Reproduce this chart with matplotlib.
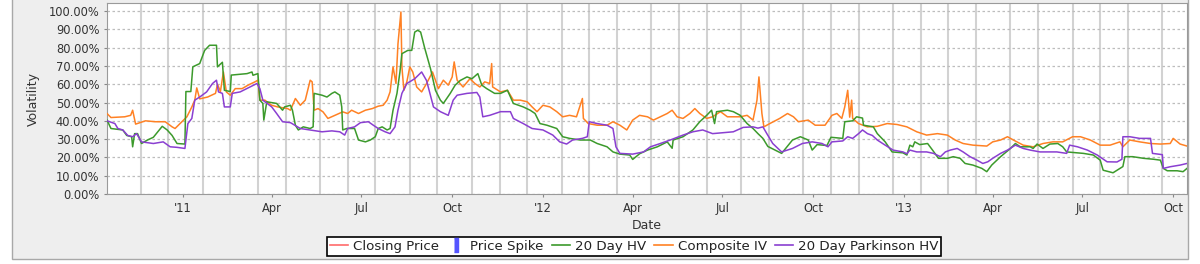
import matplotlib
matplotlib.use('Agg')
import numpy as np
import pandas as pd
import matplotlib.pyplot as plt
from matplotlib.patches import Rectangle
from matplotlib.lines import Line2D
from matplotlib.ticker import FuncFormatter, MultipleLocator
import matplotlib.dates as mdates

# days counted from 2010-10-16
start = pd.Timestamp('2010-10-16')
n_days = 1095

# Composite IV (%)
iv_day = [0, 4, 18, 24, 26, 29, 39, 49, 59, 66, 69, 76, 81, 86, 89, 91, 94, 102, 110, 112,
          115, 118, 121, 125, 130, 137, 143, 150, 153, 155, 160, 167, 173, 183, 186, 191, 196, 201, 206, 208,
          210, 214, 219, 224, 231, 239, 244, 248, 255, 262, 269, 275, 280, 284, 287, 290, 293, 295, 298, 299,
          301, 304, 307, 310, 314, 319, 324, 330, 333, 336, 341, 346, 350, 352, 355, 361, 368, 373, 378, 383,
          388, 390, 391, 399, 406, 412, 419, 426, 431, 436, 442, 449, 456, 462, 469, 476, 482, 483, 488, 497,
          507, 513, 520, 527, 533, 540, 548, 554, 561, 568, 573, 578, 584, 591, 596, 601, 608, 614, 622, 629,
          635, 642, 649, 655, 659, 661, 664, 666, 672, 682, 690, 696, 701, 711, 718, 728, 735, 740, 745, 748,
          751, 753, 755, 756, 762, 771, 781, 791, 801, 811, 821, 831, 842, 852, 860, 868, 878, 892, 898, 906,
          913, 919, 929, 939, 949, 959, 969, 979, 987, 997, 1007, 1017, 1027, 1030, 1037, 1047, 1058, 1068, 1078, 1081,
          1088, 1095]
iv_val = [44, 41.8, 42.2, 43, 45.8, 38.2, 40, 39.5, 39.5, 36.7, 35.8, 39.5, 42.2, 47.6, 51.3, 58, 52, 53, 55, 60,
          56, 66.7, 55.8, 54, 57.6, 57.6, 59.5, 61.3, 62.2, 51.3, 51.3, 48.5, 47.6, 46.7, 45.8, 52.2, 48.5, 51.3, 62.2, 61.3,
          45.8, 46.7, 44.9, 41.3, 43, 44.9, 44, 45.8, 44, 45.8, 46.7, 48, 48.5, 51.3, 55.8, 69.5, 60.4, 82, 99.5, 69.5,
          56.7, 61.3, 69.5, 66.7, 58.5, 55.8, 60.4, 66.7, 62.2, 57.6, 62.2, 59.5, 64, 72.2, 62.2, 58.5, 63, 60.4, 58.5, 61.3,
          60.4, 71.3, 58.5, 55.8, 56.7, 51.3, 51.3, 50.4, 47.6, 45, 48.5, 47.6, 45, 42.2, 43, 42.2, 52.2, 41.3, 38.5, 37.6,
          37.6, 39.5, 37.6, 35, 40.4, 43, 42.2, 40.4, 42.2, 44, 45.8, 42.2, 41.3, 44, 46.7, 44, 41.3, 42.2, 45, 42.2,
          42.2, 42.2, 43, 40.4, 51.3, 64, 44, 36.7, 38.5, 41.3, 44, 42.2, 39.5, 40.4, 37.6, 37.6, 43, 44, 41.3, 47.6,
          56.7, 42, 51.3, 41.3, 38.5, 36.7, 37, 38.5, 38, 36.7, 34, 32.2, 33, 32.2, 29.5, 27.6, 26.7, 26.2, 28.5, 29.5,
          31.3, 29.5, 26.7, 25.8, 27.6, 28.5, 28.5, 31.3, 31.3, 29.5, 26.7, 26.7, 28.5, 25.8, 29.5, 28.5, 27.6, 27.3, 27.6, 30.4,
          27.3, 26.2]

# 20 Day HV (%)
hv_day = [0, 4, 16, 20, 25, 26, 28, 31, 35, 41, 47, 56, 61, 66, 71, 79, 80, 85, 87, 94,
          99, 104, 111, 112, 117, 119, 125, 126, 142, 147, 148, 153, 155, 158, 159, 162, 172, 178, 180, 186,
          188, 191, 194, 199, 206, 209, 210, 218, 223, 228, 231, 236, 238, 239, 243, 251, 255, 262, 267, 272,
          275, 279, 284, 287, 290, 294, 297, 299, 305, 309, 312, 315, 318, 322, 328, 333, 338, 341, 348, 353,
          358, 365, 370, 376, 380, 385, 393, 399, 406, 412, 422, 429, 434, 439, 446, 456, 462, 469, 480, 490,
          497, 507, 513, 520, 530, 533, 540, 548, 558, 568, 573, 574, 584, 594, 601, 608, 613, 616, 618, 629,
          635, 642, 649, 655, 660, 665, 670, 674, 684, 695, 703, 711, 715, 720, 730, 734, 746, 748, 756, 760,
          766, 767, 777, 781, 789, 796, 807, 811, 814, 817, 819, 824, 832, 837, 843, 852, 858, 865, 870, 878,
          887, 892, 897, 906, 916, 921, 926, 936, 939, 943, 949, 956, 964, 969, 973, 984, 990, 1000, 1007, 1010,
          1020, 1027, 1030, 1032, 1040, 1051, 1061, 1068, 1071, 1075, 1085, 1091, 1095]
hv_val = [40.4, 35.8, 35, 32, 31.3, 25.8, 33, 33, 27.6, 29.5, 31, 37, 35, 32, 27.6, 27.3, 56, 56, 69.5, 71.3,
          78.5, 81.3, 81.3, 69.5, 72, 56.7, 56, 65, 65.8, 66.7, 64.9, 65.8, 51.3, 49.5, 40.4, 50.4, 49.5, 45.8, 47.6, 48.5,
          45.8, 37.6, 35, 36.7, 35.8, 36.7, 55, 54, 53, 55, 55.8, 54, 47.6, 35, 35.8, 35.8, 29.5, 28.5, 29.5, 31.3,
          35.8, 36.7, 35, 35.8, 45.8, 55, 66.7, 76.7, 78.5, 78.5, 88.5, 89.5, 88.5, 80, 68.5, 56.7, 51.3, 49.5, 55, 59.5,
          62, 64, 63, 65.8, 59.5, 57.6, 55, 55, 56.7, 49.5, 47.6, 45.8, 44, 38.5, 37.6, 35.8, 31.3, 30.4, 29.5, 29.5,
          27.6, 25.8, 23, 21.8, 21.3, 18.9, 22, 24, 25.8, 28.5, 25, 29.5, 31.3, 35, 39.5, 43, 45.8, 38.5, 45, 45.8,
          45, 43, 38.5, 35.8, 33, 30.4, 26, 24.9, 22.2, 29.5, 31.3, 29.5, 24, 27, 26.5, 31, 30.4, 39.5, 40, 42.2,
          41.5, 37.6, 36.7, 33, 28.5, 23, 22.5, 21.3, 26.7, 25.8, 28.5, 27, 27.6, 24, 19.5, 19.5, 20.4, 19.5, 16.7, 15.8,
          14, 12.2, 15.8, 20.4, 24.9, 27.6, 25.8, 25.8, 24.9, 27.3, 24.9, 27.3, 27.6, 25.8, 23, 22.5, 22.2, 21.3, 18.5, 13,
          11.6, 14, 15, 20.4, 20.4, 19.5, 19, 18.5, 14, 12.7, 12.7, 12.2, 14]

# 20 Day Parkinson HV (%)
pk_day = [0, 8, 11, 16, 21, 26, 30, 35, 47, 57, 64, 71, 79, 82, 86, 89, 94, 101, 107, 111,
          113, 117, 119, 125, 127, 135, 145, 152, 155, 158, 167, 172, 178, 186, 196, 206, 218, 228, 236, 241,
          244, 251, 257, 265, 270, 275, 282, 287, 292, 295, 299, 304, 312, 319, 324, 331, 338, 346, 351, 355,
          365, 375, 378, 381, 388, 399, 409, 412, 422, 431, 442, 452, 459, 466, 472, 482, 487, 489, 497, 507,
          513, 516, 520, 533, 544, 551, 561, 571, 584, 594, 604, 614, 625, 635, 645, 655, 660, 665, 669, 675,
          684, 695, 705, 715, 725, 731, 735, 746, 751, 756, 762, 766, 771, 776, 781, 789, 797, 807, 811, 814,
          821, 831, 838, 845, 850, 855, 862, 868, 875, 882, 888, 893, 898, 906, 913, 921, 929, 936, 946, 963,
          973, 976, 984, 994, 1004, 1014, 1024, 1029, 1030, 1037, 1047, 1058, 1060, 1070, 1071, 1078, 1088, 1095]
pk_val = [40, 38.5, 35.8, 35, 32, 31.3, 33, 28.5, 27.6, 28.5, 25.8, 25.5, 24.9, 38.5, 41.3, 51.3, 53, 55.8, 60.4, 62.2,
          55.8, 55, 47.6, 47.6, 55, 55.8, 58.5, 60.4, 57.6, 51.3, 47.6, 44, 39.5, 39, 35.8, 35, 34, 34.5, 34, 32.2,
          35.8, 36.7, 39, 39.5, 37.6, 35.8, 34, 33, 36.7, 45.8, 55, 60.4, 63, 66.7, 62, 47.6, 45, 43, 51.3, 54,
          55, 55.5, 53, 42.2, 43, 45, 45, 41.3, 38.5, 35.8, 35, 32.2, 28.5, 27.3, 29.5, 30.4, 31.3, 39.5, 38.5, 37.6,
          35.8, 25.8, 22.2, 21.8, 23, 25.8, 27.6, 29.5, 32.2, 34, 35, 33, 33.5, 34, 36.4, 36.7, 36, 36.7, 33, 27.6,
          23, 24.9, 27.6, 28.5, 27.6, 25.8, 28.5, 29, 31.3, 30.4, 33, 35, 33, 32, 29.5, 26.7, 24, 23, 22, 24,
          23, 23, 22.2, 20.4, 23, 24, 24.9, 23, 20.4, 18.5, 16.7, 17.6, 19.5, 22.2, 24, 26.7, 24.9, 24, 23, 23,
          22.2, 26.7, 25.8, 24, 21.3, 17.6, 17.5, 19, 31.3, 31.3, 30.4, 30.4, 22.2, 21.5, 14, 14.9, 15.8, 16.7]


def to_dates(days):
    return start + pd.to_timedelta(days, unit='D')


fig = plt.figure(figsize=(12, 2.64), dpi=100)
fig.patch.set_facecolor('white')
# gray chart panel behind everything
fig.patches.append(Rectangle((12 / 1200, 5 / 264), 1176 / 1200, 1.0, transform=fig.transFigure,
                             facecolor='#eeeeee', edgecolor='#a8a8a8', lw=1, zorder=-10))

ax = fig.add_axes([107 / 1200, 70 / 264, 1080 / 1200, 191 / 264])
ax.set_zorder(1)
ax.set_facecolor('white')

# option expiry grid lines
expiries = pd.date_range('2010-10-01', '2013-10-31', freq='WOM-3FRI')
for d in expiries:
    ax.axvline(d, color='#d2d2d2', lw=1.5, zorder=0)
ax.yaxis.grid(True, color='#bdbdbd', ls=(0, (2, 2)), lw=0.9, zorder=0)

ax.plot(to_dates(iv_day), iv_val, color='#ff8124', lw=1.1, zorder=3)
ax.plot(to_dates(hv_day), hv_val, color='#3c9a2c', lw=1.1, zorder=4)
ax.plot(to_dates(pk_day), pk_val, color='#8a3fd1', lw=1.1, zorder=5)

ax.set_xlim(start, start + pd.Timedelta(days=n_days))
ax.set_ylim(0, 104.4)
ax.yaxis.set_major_locator(MultipleLocator(10))
ax.yaxis.set_major_formatter(FuncFormatter(lambda v, p: '%.2f%%' % v))
ax.xaxis.set_major_locator(mdates.MonthLocator(bymonth=[1, 4, 7, 10]))
ax.xaxis.set_major_formatter(FuncFormatter(
    lambda v, p: mdates.num2date(v).strftime("'%y") if mdates.num2date(v).month == 1
    else mdates.num2date(v).strftime('%b')))
ax.tick_params(axis='both', labelsize=8.3, labelcolor='#333333', color='#888888', length=2, width=0.8)
for s in ax.spines.values():
    s.set_color('#9a9a9a')
    s.set_linewidth(0.8)

ax.set_ylabel('Volatility', fontsize=9, color='#333333', labelpad=6)
ax.set_xlabel('Date', fontsize=9, color='#333333', labelpad=3)

handles = [Line2D([], [], color='#ff6b6b', lw=1.2),
           Line2D([], [], ls='none', marker=[(-0.35, -1), (0.35, -1), (0.35, 1), (-0.35, 1)],
                  markersize=10, color='#5555ff'),
           Line2D([], [], color='#3c9a2c', lw=1.2),
           Line2D([], [], color='#ff8124', lw=1.2),
           Line2D([], [], color='#8a3fd1', lw=1.2)]
labels = ['Closing Price', 'Price Spike', '20 Day HV', 'Composite IV', '20 Day Parkinson HV']
leg = fig.legend(handles, labels, loc='center', bbox_to_anchor=(634 / 1200, 17.5 / 264), ncol=5,
                 fontsize=9.6, frameon=True, fancybox=False, framealpha=1, edgecolor='black',
                 borderpad=0.2, handlelength=1.4, handletextpad=0.35, columnspacing=0.6)
leg.get_frame().set_linewidth(1.2)
for t in leg.get_texts():
    t.set_color('#222222')

fig.savefig('out.png', dpi=100)
